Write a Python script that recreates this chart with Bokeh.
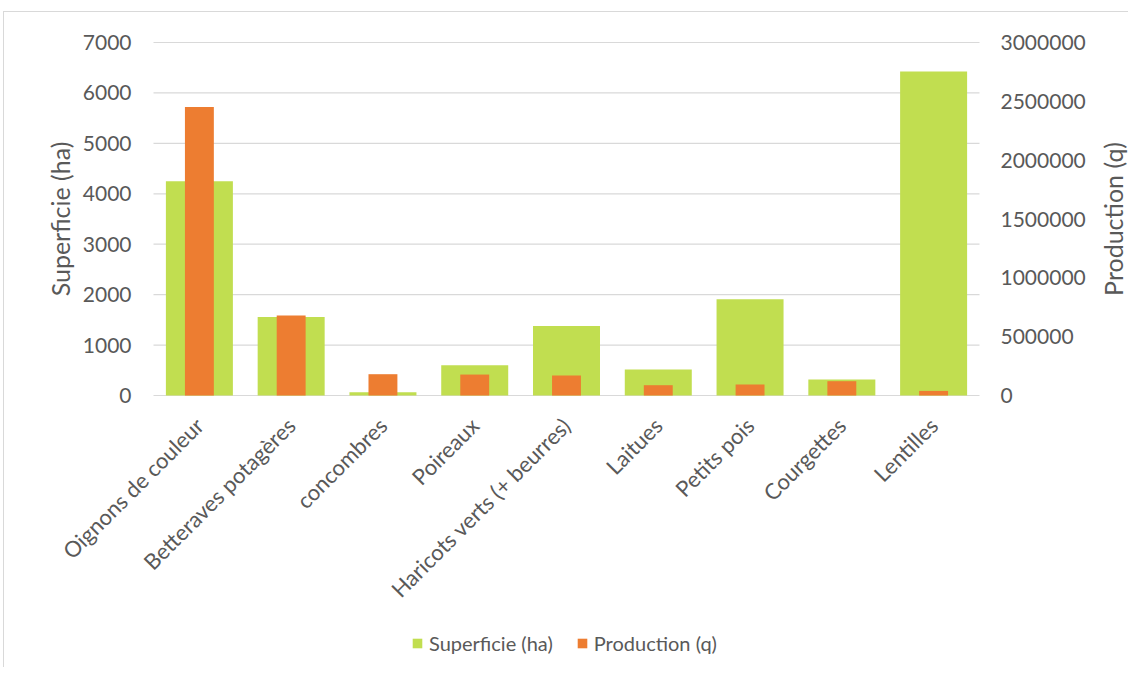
import math
from bokeh.plotting import figure
from bokeh.models import (Range1d, LinearAxis, Legend, LegendItem, FactorRange,
                          FixedTicker, BasicTickFormatter)
from bokeh.core.properties import value
from bokeh.embed import file_html
from bokeh.resources import INLINE

categories = ["Oignons de couleur", "Betteraves potagères", "concombres", "Poireaux",
              "Haricots verts (+ beurres)", "Laitues", "Petits pois", "Courgettes", "Lentilles"]
superficie = [4250, 1557, 65, 600, 1380, 515, 1910, 317, 6425]
production = [2452000, 680000, 181000, 178000, 170000, 87500, 93500, 121500, 39000]
left_ticks = [0, 1000, 2000, 3000, 4000, 5000, 6000, 7000]
right_ticks = [0, 500000, 1000000, 1500000, 2000000, 2500000, 3000000]

GREEN = "#C1DE50"
ORANGE = "#ED7D31"
TXT = "#595959"
GRID = "#D9D9D9"
FONT = "Lato"

# layout in pixels
PLOT_W, PLOT_H = 826, 353      # area covered by the categories and the 0..max values
PAD_X = 149                     # frame extends this far left and right of the bars area
PAD_TOP, PAD_BOTTOM = 30, 272   # frame extends above the max and below zero
n = len(categories)
lmax, rmax = left_ticks[-1], right_ticks[-1]
cat_px = PLOT_W / n

p = figure(x_range=FactorRange(*categories, range_padding=PAD_X / cat_px,
                               range_padding_units="absolute"),
           y_range=Range1d(-lmax * PAD_BOTTOM / PLOT_H, lmax * (1 + PAD_TOP / PLOT_H)),
           frame_width=PLOT_W + 2 * PAD_X, frame_height=PLOT_H + PAD_TOP + PAD_BOTTOM,
           min_border=0, min_border_left=0, min_border_right=0,
           min_border_top=0, min_border_bottom=0,
           output_backend="svg", toolbar_location=None)
p.extra_y_ranges = {"prod": Range1d(-rmax * PAD_BOTTOM / PLOT_H, rmax * (1 + PAD_TOP / PLOT_H))}

# horizontal gridlines limited to the bars area
p.segment(x0=[0] * len(left_ticks), x1=[n] * len(left_ticks), y0=left_ticks, y1=left_ticks,
          line_color=GRID, line_width=1.2)

g = p.vbar(x=categories, top=superficie, width=0.73, color=GREEN, line_color=None)
o = p.vbar(x=categories, top=production, width=0.315, color=ORANGE, line_color=None,
           y_range_name="prod")

# axis titles
p.text(x=[0], y=[lmax / 2], text=["Superficie (ha)"], angle=math.pi / 2,
       x_offset=-94, text_align="center", text_baseline="middle",
       text_font=value(FONT), text_font_size="25px", text_color=TXT)
p.text(x=[n], y=[rmax / 2], text=["Production (q)"], angle=math.pi / 2,
       x_offset=133, text_align="center", text_baseline="middle", y_range_name="prod",
       text_font=value(FONT), text_font_size="25px", text_color=TXT)

p.outline_line_color = None
p.xgrid.visible = False
p.ygrid.visible = False

yl = p.yaxis[0]
yl.ticker = FixedTicker(ticks=left_ticks)
yl.fixed_location = 0

right = LinearAxis(y_range_name="prod", ticker=FixedTicker(ticks=right_ticks),
                   formatter=BasicTickFormatter(use_scientific=False))
right.fixed_location = n
p.add_layout(right, "right")

xa = p.xaxis[0]
xa.fixed_location = 0
xa.major_label_orientation = math.pi / 4
xa.major_label_standoff = 26

for ax in [yl, right, xa]:
    ax.axis_line_color = None
    ax.major_tick_line_color = None
    ax.minor_tick_line_color = None
    ax.major_tick_out = 0
    ax.major_tick_in = 0
    ax.major_label_text_font = FONT
    ax.major_label_text_color = TXT
    ax.major_label_text_font_size = "21px"
xa.major_label_text_font_size = "22px"
yl.major_label_standoff = 22
right.major_label_standoff = 21

legend = Legend(items=[LegendItem(label="Superficie (ha)", renderers=[g]),
                       LegendItem(label="Production (q)", renderers=[o])],
                orientation="horizontal", location=(PAD_X + 258, 12),
                label_text_font=FONT, label_text_font_size="20px", label_text_color=TXT,
                glyph_width=12, glyph_height=12, spacing=23, padding=0, margin=0,
                label_standoff=6, border_line_color=None, background_fill_alpha=0)
p.add_layout(legend, "center")

p.styles = {"border-left": "1px solid #D9D9D9", "border-top": "1px solid #D9D9D9",
            "margin-left": "3px", "margin-top": "11px"}

open("out.html", "w").write(file_html(p, INLINE))
